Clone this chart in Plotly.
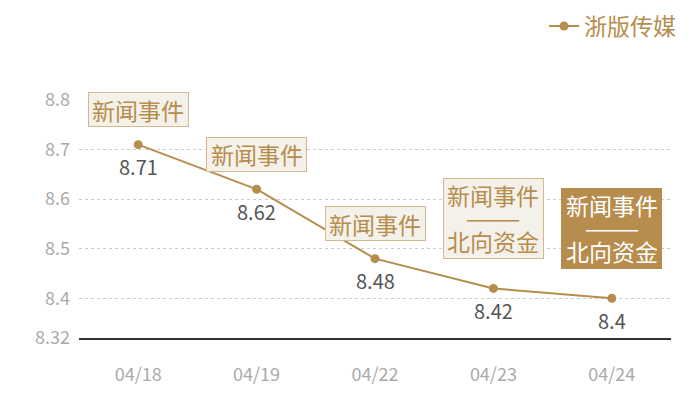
import plotly.graph_objects as go

dates = ["04/18", "04/19", "04/22", "04/23", "04/24"]
prices = [8.71, 8.62, 8.48, 8.42, 8.4]
event_top = ["新闻事件", "新闻事件", "新闻事件", "新闻事件", "新闻事件"]
event_bottom = ["", "", "", "北向资金", "北向资金"]
y_ticks = [8.32, 8.4, 8.5, 8.6, 8.7, 8.8]

GOLD = "#b68d4c"
FONT = "Noto Sans CJK SC"

fig = go.Figure()
fig.add_trace(
    go.Scatter(
        x=dates,
        y=prices,
        mode="lines+markers",
        name="浙版传媒",
        line={"color": GOLD, "width": 2},
        marker={"color": GOLD, "size": 9},
    )
)

# value labels under each point
for d, v in zip(dates, prices):
    fig.add_annotation(
        x=d, y=v, text=f"{v:g}", showarrow=False,
        yanchor="middle", yshift=-22,
        font={"size": 20, "color": "#555555", "family": FONT},
    )

# event boxes above each point
for i, (d, v, top, bottom) in enumerate(zip(dates, prices, event_top, event_bottom)):
    last = i == len(dates) - 1
    txt_color = "#ffffff" if last else GOLD
    box = dict(
        x=d, y=v, text=" ", showarrow=False, yanchor="middle",
        bgcolor=GOLD if last else "#f4f0ea",
        bordercolor=GOLD if last else "#d3b98c",
        borderwidth=1, borderpad=0, width=99,
    )
    if bottom:
        fig.add_annotation(**box, height=79, yshift=70)
        fig.add_annotation(x=d, y=v, text=top, showarrow=False, yanchor="middle", yshift=93,
                           font={"size": 23, "color": txt_color, "family": FONT})
        fig.add_annotation(x=d, y=v, text="———", showarrow=False, yanchor="middle", yshift=71,
                           font={"size": 22, "color": txt_color, "family": FONT})
        fig.add_annotation(x=d, y=v, text=bottom, showarrow=False, yanchor="middle", yshift=47,
                           font={"size": 23, "color": txt_color, "family": FONT})
    else:
        fig.add_annotation(**box, height=33, yshift=35)
        fig.add_annotation(x=d, y=v, text=top, showarrow=False, yanchor="middle", yshift=35,
                           font={"size": 23, "color": txt_color, "family": FONT})

fig.update_layout(
    width=700,
    height=400,
    margin={"l": 71, "r": 37, "t": 92, "b": 70},
    plot_bgcolor="#ffffff",
    paper_bgcolor="#ffffff",
    font={"family": FONT},
    showlegend=True,
    legend={
        "x": 1.017,
        "y": 0.955,
        "xref": "paper",
        "yref": "container",
        "xanchor": "right",
        "yanchor": "middle",
        "font": {"size": 23, "color": GOLD, "family": FONT},
        "itemwidth": 30,
    },
    xaxis={
        "type": "category",
        "automargin": False,
        "showgrid": False,
        "showline": True,
        "linecolor": "#333333",
        "linewidth": 1.5,
        "tickfont": {"size": 18, "color": "#aaaaaa"},
        "ticks": "",
        "ticklabelstandoff": 20,
        "range": [-0.5, 4.5],
        "zeroline": False,
    },
    yaxis={
        "automargin": False,
        "range": [8.32, 8.8],
        "tickvals": y_ticks,
        "ticktext": [f"{v:g}" for v in y_ticks],
        "showgrid": True,
        "gridcolor": "#cccccc",
        "griddash": "dot",
        "gridwidth": 1,
        "tickfont": {"size": 18, "color": "#aaaaaa"},
        "zeroline": False,
        "showline": False,
        "ticklabelstandoff": 8,
    },
)

fig.write_html("out.html")
